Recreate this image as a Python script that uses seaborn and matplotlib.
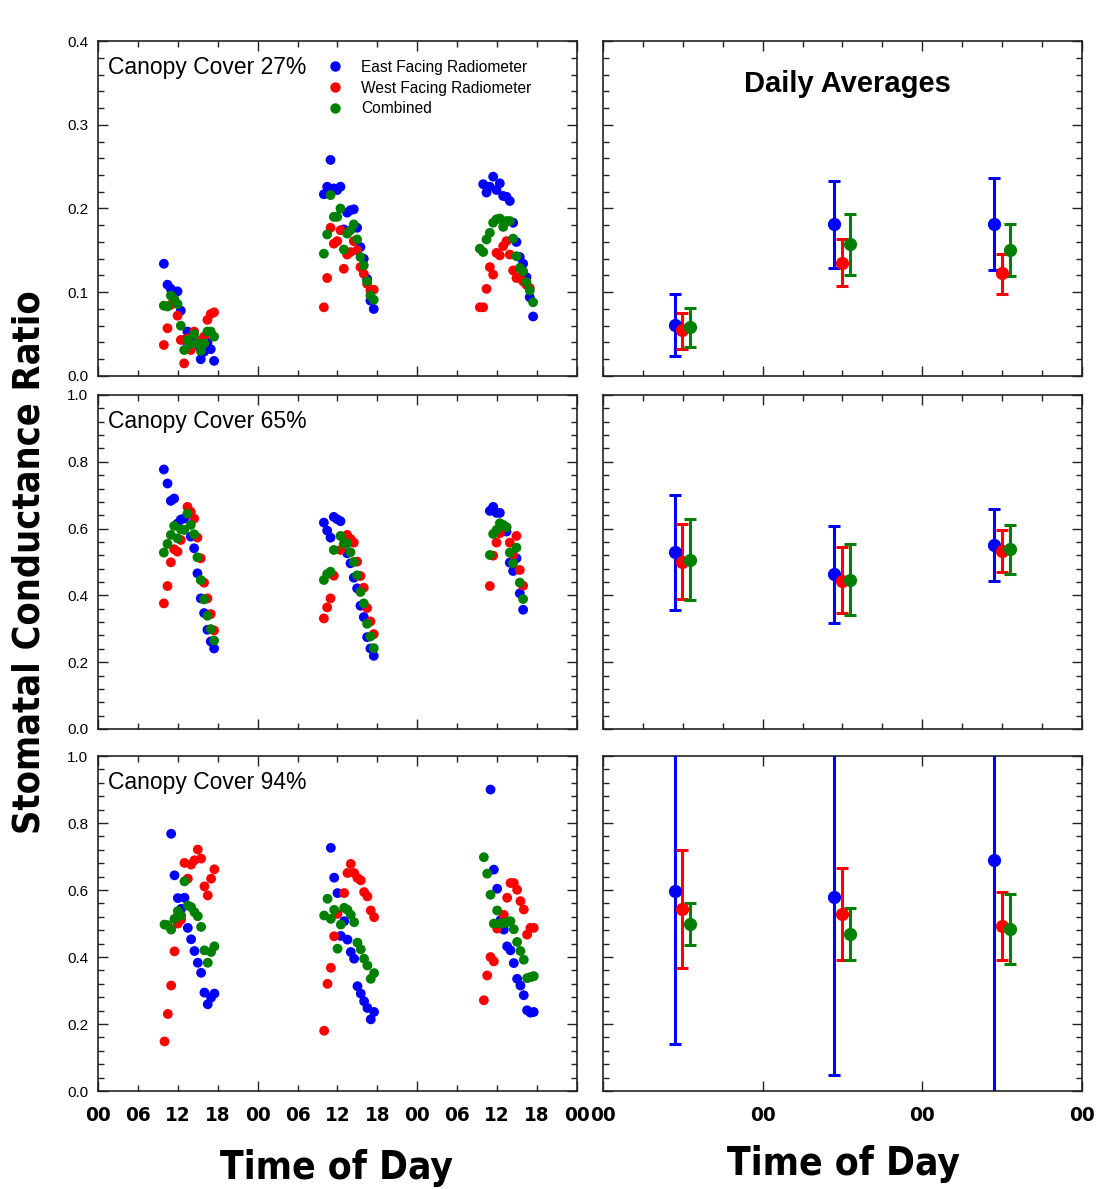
import numpy as np
import pandas as pd
import matplotlib
matplotlib.use("Agg")
import matplotlib.pyplot as plt
import seaborn as sns
from matplotlib import font_manager
from matplotlib.lines import Line2D
from matplotlib.ticker import MultipleLocator, NullLocator

# ---------------- data (hours since start of day 1, ratio) ----------------
series_names = ["East Facing Radiometer", "West Facing Radiometer", "Combined"]
covers = ["Canopy Cover 27%", "Canopy Cover 65%", "Canopy Cover 94%"]

# Canopy 27%
c27_east_t = [9.9, 10.45, 10.95, 11.45, 11.95, 12.45, 12.95, 13.45, 13.95, 14.45, 14.95, 15.45, 15.95, 16.45, 16.95, 17.45,
              33.95, 34.45, 34.95, 35.45, 35.95, 36.45, 36.95, 37.45, 37.95, 38.45, 38.95, 39.45, 39.95, 40.45, 40.95, 41.45,
              57.9, 58.4, 58.9, 59.4, 59.9, 60.4, 60.9, 61.4, 61.9, 62.4, 62.9, 63.4, 63.9, 64.4, 64.9, 65.4]
c27_east_v = [0.134, 0.109, 0.104, 0.100, 0.101, 0.078, 0.043, 0.053, 0.037, 0.045, 0.037, 0.020, 0.029, 0.040, 0.032, 0.018,
              0.217, 0.226, 0.258, 0.224, 0.222, 0.226, 0.175, 0.195, 0.198, 0.199, 0.177, 0.154, 0.140, 0.116, 0.090, 0.080,
              0.229, 0.219, 0.226, 0.238, 0.222, 0.230, 0.215, 0.214, 0.209, 0.183, 0.160, 0.142, 0.134, 0.118, 0.094, 0.071]
c27_west_t = [9.9, 10.45, 10.95, 11.95, 12.45, 12.95, 13.45, 13.95, 14.45, 14.95, 15.45, 15.95, 16.45, 16.95, 17.45,
              33.95, 34.45, 34.95, 35.45, 35.95, 36.45, 36.95, 37.45, 37.95, 38.45, 38.95, 39.45, 39.95, 40.45, 40.95, 41.45,
              57.4, 57.9, 58.4, 58.9, 59.4, 59.9, 60.4, 60.9, 61.4, 61.9, 62.4, 62.9, 63.4, 63.9, 64.4, 64.9]
c27_west_v = [0.037, 0.057, 0.085, 0.072, 0.043, 0.015, 0.045, 0.031, 0.053, 0.039, 0.042, 0.047, 0.067, 0.074, 0.076,
              0.082, 0.117, 0.177, 0.158, 0.161, 0.174, 0.128, 0.145, 0.148, 0.161, 0.150, 0.130, 0.122, 0.110, 0.102, 0.103,
              0.082, 0.082, 0.104, 0.130, 0.121, 0.147, 0.144, 0.155, 0.161, 0.145, 0.126, 0.117, 0.118, 0.113, 0.109, 0.105]
c27_comb_t = [9.9, 10.45, 10.95, 11.45, 11.95, 12.45, 12.95, 13.45, 13.95, 14.45, 14.95, 15.45, 15.95, 16.45, 16.95, 17.45,
              33.95, 34.45, 34.95, 35.45, 35.95, 36.45, 36.95, 37.45, 37.95, 38.45, 38.95, 39.45, 39.95, 40.45, 40.95, 41.45,
              57.4, 57.9, 58.4, 58.9, 59.4, 59.9, 60.4, 60.9, 61.4, 61.9, 62.4, 62.9, 63.4, 63.9, 64.4, 64.9, 65.4]
c27_comb_v = [0.084, 0.083, 0.096, 0.092, 0.086, 0.060, 0.031, 0.043, 0.038, 0.050, 0.039, 0.030, 0.039, 0.053, 0.053, 0.047,
              0.146, 0.169, 0.216, 0.190, 0.190, 0.200, 0.151, 0.170, 0.174, 0.181, 0.163, 0.142, 0.132, 0.113, 0.096, 0.091,
              0.152, 0.148, 0.163, 0.171, 0.183, 0.187, 0.188, 0.178, 0.185, 0.185, 0.164, 0.143, 0.129, 0.125, 0.112, 0.102, 0.088]

# Canopy 65%
c65_east_t = [9.9, 10.45, 10.95, 11.45, 11.95, 12.45, 12.95, 13.95, 14.45, 14.95, 15.45, 15.95, 16.45, 16.95, 17.45,
              33.95, 34.45, 34.95, 35.45, 35.95, 36.45, 37.45, 37.95, 38.45, 38.95, 39.45, 39.95, 40.45, 40.95, 41.45,
              58.9, 59.4, 59.9, 60.4, 60.9, 61.4, 61.9, 62.4, 62.9, 63.4, 63.9]
c65_east_v = [0.777, 0.735, 0.683, 0.690, 0.615, 0.627, 0.630, 0.576, 0.541, 0.466, 0.391, 0.347, 0.297, 0.262, 0.241,
              0.618, 0.594, 0.573, 0.635, 0.628, 0.622, 0.526, 0.496, 0.453, 0.421, 0.369, 0.335, 0.275, 0.241, 0.219,
              0.653, 0.665, 0.647, 0.647, 0.600, 0.591, 0.498, 0.473, 0.511, 0.406, 0.357]
c65_west_t = [9.9, 10.45, 10.95, 11.45, 11.95, 12.45, 13.45, 13.95, 14.45, 14.95, 15.45, 15.95, 16.45, 16.95, 17.45,
              33.95, 34.45, 34.95, 35.45, 36.45, 36.95, 37.45, 37.95, 38.45, 38.95, 39.45, 39.95, 40.45, 40.95, 41.45,
              58.9, 59.4, 59.9, 60.4, 60.9, 61.4, 61.9, 62.4, 62.9, 63.4, 63.9]
c65_west_v = [0.376, 0.428, 0.499, 0.538, 0.531, 0.566, 0.665, 0.650, 0.630, 0.573, 0.511, 0.438, 0.391, 0.344, 0.295,
              0.331, 0.364, 0.391, 0.459, 0.536, 0.571, 0.581, 0.569, 0.558, 0.501, 0.458, 0.423, 0.362, 0.322, 0.284,
              0.428, 0.519, 0.558, 0.586, 0.606, 0.604, 0.558, 0.521, 0.578, 0.476, 0.429]
c65_comb_t = [9.9, 10.45, 10.95, 11.45, 11.95, 12.45, 12.95, 13.45, 13.95, 14.45, 14.95, 15.45, 15.95, 16.45, 16.95, 17.45,
              33.95, 34.45, 34.95, 35.45, 36.45, 36.95, 37.45, 37.95, 38.45, 38.95, 39.45, 39.95, 40.45, 40.95, 41.45,
              58.9, 59.4, 59.9, 60.4, 60.9, 61.4, 61.9, 62.4, 62.9, 63.4, 63.9]
c65_comb_v = [0.528, 0.554, 0.581, 0.608, 0.571, 0.598, 0.596, 0.645, 0.611, 0.583, 0.514, 0.446, 0.388, 0.339, 0.299, 0.265,
              0.446, 0.464, 0.471, 0.536, 0.578, 0.554, 0.556, 0.529, 0.500, 0.460, 0.410, 0.376, 0.315, 0.277, 0.242,
              0.521, 0.584, 0.596, 0.616, 0.611, 0.604, 0.528, 0.496, 0.543, 0.438, 0.389]

# Canopy 94%
c94_east_t = [11.0, 11.5, 12.0, 12.5, 13.0, 13.5, 14.0, 14.5, 15.0, 15.5, 16.0, 16.5, 17.0, 17.5,
              35.0, 35.5, 36.0, 36.5, 37.0, 37.5, 38.0, 38.5, 39.0, 39.5, 40.0, 40.5, 41.0, 41.5,
              59.0, 59.5, 60.0, 60.5, 61.0, 61.5, 62.0, 62.5, 63.0, 63.5, 64.0, 64.5, 65.0, 65.5]
c94_east_v = [0.768, 0.644, 0.576, 0.544, 0.577, 0.487, 0.453, 0.418, 0.383, 0.353, 0.294, 0.259, 0.279, 0.291,
              0.726, 0.637, 0.591, 0.463, 0.507, 0.452, 0.415, 0.395, 0.313, 0.291, 0.268, 0.248, 0.214, 0.236,
              0.900, 0.661, 0.604, 0.510, 0.482, 0.432, 0.420, 0.382, 0.335, 0.315, 0.286, 0.241, 0.234, 0.236]
c94_west_t = [10.0, 10.5, 11.0, 11.5, 12.0, 12.5, 13.0, 13.5, 14.0, 14.5, 15.0, 15.5, 16.0, 16.5, 17.0, 17.5,
              34.0, 34.5, 35.0, 35.5, 36.0, 37.0, 37.5, 38.0, 38.5, 39.0, 39.5, 40.0, 40.5, 41.0, 41.5,
              58.0, 58.5, 59.0, 59.5, 60.0, 60.5, 61.0, 61.5, 62.0, 62.5, 63.0, 63.5, 64.0, 64.5, 65.0, 65.5]
c94_west_v = [0.148, 0.230, 0.315, 0.417, 0.500, 0.512, 0.681, 0.634, 0.676, 0.689, 0.721, 0.694, 0.611, 0.584, 0.634, 0.662,
              0.180, 0.320, 0.368, 0.462, 0.529, 0.591, 0.651, 0.678, 0.651, 0.636, 0.629, 0.594, 0.581, 0.539, 0.519,
              0.271, 0.345, 0.400, 0.387, 0.485, 0.500, 0.526, 0.577, 0.621, 0.621, 0.601, 0.567, 0.542, 0.467, 0.487, 0.487]
c94_comb_t = [10.0, 10.5, 11.0, 11.5, 12.0, 12.5, 13.0, 13.5, 14.0, 14.5, 15.0, 15.5, 16.0, 16.5, 17.0, 17.5,
              34.0, 34.5, 35.0, 35.5, 36.0, 36.5, 37.0, 37.5, 38.0, 38.5, 39.0, 39.5, 40.0, 40.5, 41.0, 41.5,
              58.0, 58.5, 59.0, 59.5, 60.0, 60.5, 61.0, 61.5, 62.0, 62.5, 63.0, 63.5, 64.0, 64.5, 65.0, 65.5]
c94_comb_v = [0.497, 0.495, 0.482, 0.514, 0.537, 0.524, 0.626, 0.554, 0.549, 0.534, 0.522, 0.490, 0.420, 0.383, 0.415, 0.432,
              0.524, 0.574, 0.514, 0.541, 0.425, 0.497, 0.547, 0.541, 0.526, 0.504, 0.443, 0.423, 0.395, 0.375, 0.335, 0.352,
              0.698, 0.649, 0.586, 0.500, 0.539, 0.500, 0.501, 0.504, 0.507, 0.483, 0.445, 0.418, 0.392, 0.337, 0.340, 0.343]

# Daily averages: hour of plotted point per series, mean, lower and upper bar ends
avg_east_t = [10.75, 34.75, 58.75]
avg_west_t = [11.95, 35.95, 59.95]
avg_comb_t = [13.15, 37.15, 61.15]

a27_east = [0.061, 0.181, 0.181]; a27_east_lo = [0.024, 0.129, 0.126]; a27_east_hi = [0.098, 0.233, 0.236]
a27_west = [0.055, 0.135, 0.123]; a27_west_lo = [0.032, 0.107, 0.098]; a27_west_hi = [0.075, 0.163, 0.146]
a27_comb = [0.058, 0.157, 0.151]; a27_comb_lo = [0.035, 0.121, 0.119]; a27_comb_hi = [0.081, 0.193, 0.182]

a65_east = [0.529, 0.464, 0.551]; a65_east_lo = [0.355, 0.317, 0.443]; a65_east_hi = [0.702, 0.609, 0.660]
a65_west = [0.501, 0.444, 0.533]; a65_west_lo = [0.388, 0.347, 0.469]; a65_west_hi = [0.614, 0.544, 0.596]
a65_comb = [0.506, 0.446, 0.538]; a65_comb_lo = [0.386, 0.342, 0.464]; a65_comb_hi = [0.628, 0.553, 0.611]

a94_east = [0.598, 0.578, 0.691]; a94_east_lo = [0.139, 0.047, -0.060]; a94_east_hi = [1.057, 1.109, 1.440]
a94_west = [0.544, 0.529, 0.492]; a94_west_lo = [0.366, 0.392, 0.390]; a94_west_hi = [0.721, 0.665, 0.593]
a94_comb = [0.498, 0.470, 0.484]; a94_comb_lo = [0.435, 0.392, 0.378]; a94_comb_hi = [0.560, 0.546, 0.589]

major_tick_labels = ["00", "00", "00", "00"]
minor_tick_labels = ["06", "12", "18", "06", "12", "18", "06", "12", "18"]

# ---------------- style ----------------
sns.set_style("ticks")
plt.rcParams["font.family"] = ["Liberation Sans", "DejaVu Sans"]
for k in ["text.color", "axes.labelcolor", "xtick.color", "ytick.color"]:
    plt.rcParams[k] = "black"


def has_font(name):
    try:
        font_manager.findfont(font_manager.FontProperties(family=name), fallback_to_default=False)
        return True
    except Exception:
        return False


NARROW = "Liberation Sans Narrow" if has_font("Liberation Sans Narrow") else None
if NARROW:
    narrow_kw = dict(family=[NARROW, "DejaVu Sans"], weight="bold")
    nscale = 1.0
else:
    narrow_kw = dict(family=["DejaVu Sans"], weight="bold", stretch="condensed")
    nscale = 0.82

palette = {series_names[0]: "#0000FF", series_names[1]: "#FF0000", series_names[2]: "#008000"}
colors = [palette[s] for s in series_names]

fig = plt.figure(figsize=(11.06, 11.89), dpi=100)
fig.patch.set_facecolor("white")

rows = [(0.6838, 0.2817), (0.3869, 0.2809), (0.0824, 0.2817)]
ylims = [0.4, 1.0, 1.0]
ymaj = [0.1, 0.2, 0.2]
ymin = [0.02, 0.04, 0.04]

scatter_data = [
    [(c27_east_t, c27_east_v), (c27_west_t, c27_west_v), (c27_comb_t, c27_comb_v)],
    [(c65_east_t, c65_east_v), (c65_west_t, c65_west_v), (c65_comb_t, c65_comb_v)],
    [(c94_east_t, c94_east_v), (c94_west_t, c94_west_v), (c94_comb_t, c94_comb_v)],
]
avg_data = [
    [(a27_east, a27_east_lo, a27_east_hi), (a27_west, a27_west_lo, a27_west_hi), (a27_comb, a27_comb_lo, a27_comb_hi)],
    [(a65_east, a65_east_lo, a65_east_hi), (a65_west, a65_west_lo, a65_west_hi), (a65_comb, a65_comb_lo, a65_comb_hi)],
    [(a94_east, a94_east_lo, a94_east_hi), (a94_west, a94_west_lo, a94_west_hi), (a94_comb, a94_comb_lo, a94_comb_hi)],
]
avg_times = [avg_east_t, avg_west_t, avg_comb_t]


def style_axes(ax, r, minor_x=True):
    ax.set_xlim(0, 72)
    ax.set_ylim(0, ylims[r])
    ax.xaxis.set_major_locator(MultipleLocator(24))
    if minor_x:
        ax.xaxis.set_minor_locator(MultipleLocator(6))
    else:
        ax.xaxis.set_minor_locator(NullLocator())
    ax.yaxis.set_major_locator(MultipleLocator(ymaj[r]))
    ax.yaxis.set_minor_locator(MultipleLocator(ymin[r]))
    ax.tick_params(which="both", direction="in", top=True, right=True, bottom=True, left=True,
                   color="#222222", width=1.0)
    ax.tick_params(which="major", length=7)
    ax.tick_params(which="minor", length=4)
    ax.tick_params(axis="x", which="both", labelbottom=False)
    for sp in ax.spines.values():
        sp.set_visible(True)
        sp.set_linewidth(1.2)
        sp.set_color("#222222")
    ax.set_xlabel("")
    ax.set_ylabel("")
    ax.set_facecolor("white")


left_axes = []
right_axes = []
for r, (y0, h) in enumerate(rows):
    axl = fig.add_axes([0.0886, y0, 0.4331, h])
    axr = fig.add_axes([0.5452, y0, 0.4331, h])
    left_axes.append(axl)
    right_axes.append(axr)

    frames = []
    for name, (t, v) in zip(series_names, scatter_data[r]):
        frames.append(pd.DataFrame({"hour": t, "ratio": v, "series": name}))
    df = pd.concat(frames, ignore_index=True)
    sns.scatterplot(data=df, x="hour", y="ratio", hue="series", palette=palette,
                    hue_order=series_names, s=50, edgecolor="none", linewidth=0,
                    legend=False, ax=axl, zorder=3)
    style_axes(axl, r)
    axl.yaxis.set_major_formatter(matplotlib.ticker.FormatStrFormatter("%.1f"))
    axl.tick_params(axis="y", which="major", labelsize=11, pad=7)
    axl.text(0.021, 0.922, covers[r], transform=axl.transAxes, fontsize=16.5,
             ha="left", va="center", color="black")

    for (mean, lo, hi), tt, c in zip(avg_data[r], avg_times, colors):
        mean = np.array(mean); lo = np.array(lo); hi = np.array(hi)
        axr.errorbar(tt, mean, yerr=[mean - lo, hi - mean], fmt="o", color=c, ms=8.5,
                     elinewidth=2.2, capsize=4.5, capthick=2.2, zorder=3)
    style_axes(axr, r, minor_x=(r != 2))
    axr.tick_params(axis="y", which="both", labelleft=False)

# legend in first panel
handles = [Line2D([0], [0], marker="o", linestyle="none", markersize=7.5,
                  markerfacecolor=c, markeredgecolor="none") for c in colors]
left_axes[0].legend(handles, series_names, loc="upper left", bbox_to_anchor=(0.465, 0.963),
                    frameon=False, fontsize=11.2, handletextpad=1.2, labelspacing=0.38,
                    borderaxespad=0, handlelength=1.0)

right_axes[0].text(0.511, 0.872, "Daily Averages", transform=right_axes[0].transAxes,
                   fontsize=21, fontweight="bold", ha="center", va="center", color="black")

# x tick labels on bottom panels
tick_fp = font_manager.FontProperties(size=18 * nscale, **narrow_kw)
axb = left_axes[2]
axb.set_xticks([0, 24, 48, 72], major_tick_labels)
axb.set_xticks([6, 12, 18, 30, 36, 42, 54, 60, 66], minor_tick_labels, minor=True)
axb.tick_params(axis="x", which="both", labelbottom=True, pad=11)
for lab in axb.get_xticklabels(which="both"):
    lab.set_fontproperties(tick_fp)

axrb = right_axes[2]
axrb.set_xticks([0, 24, 48, 72], major_tick_labels)
axrb.tick_params(axis="x", which="major", labelbottom=True, pad=11)
for lab in axrb.get_xticklabels():
    lab.set_fontproperties(tick_fp)

title_fp = font_manager.FontProperties(size=34 * nscale, **narrow_kw)
fig.text(0.304, 0.018, "Time of Day", ha="center", va="center", fontproperties=title_fp)
fig.text(0.763, 0.021, "Time of Day", ha="center", va="center", fontproperties=title_fp)
fig.text(0.027, 0.527, "Stomatal Conductance Ratio", ha="center", va="center", rotation=90,
         fontproperties=font_manager.FontProperties(size=33 * nscale, **narrow_kw))

fig.savefig("out.png", dpi=100, facecolor="white")
